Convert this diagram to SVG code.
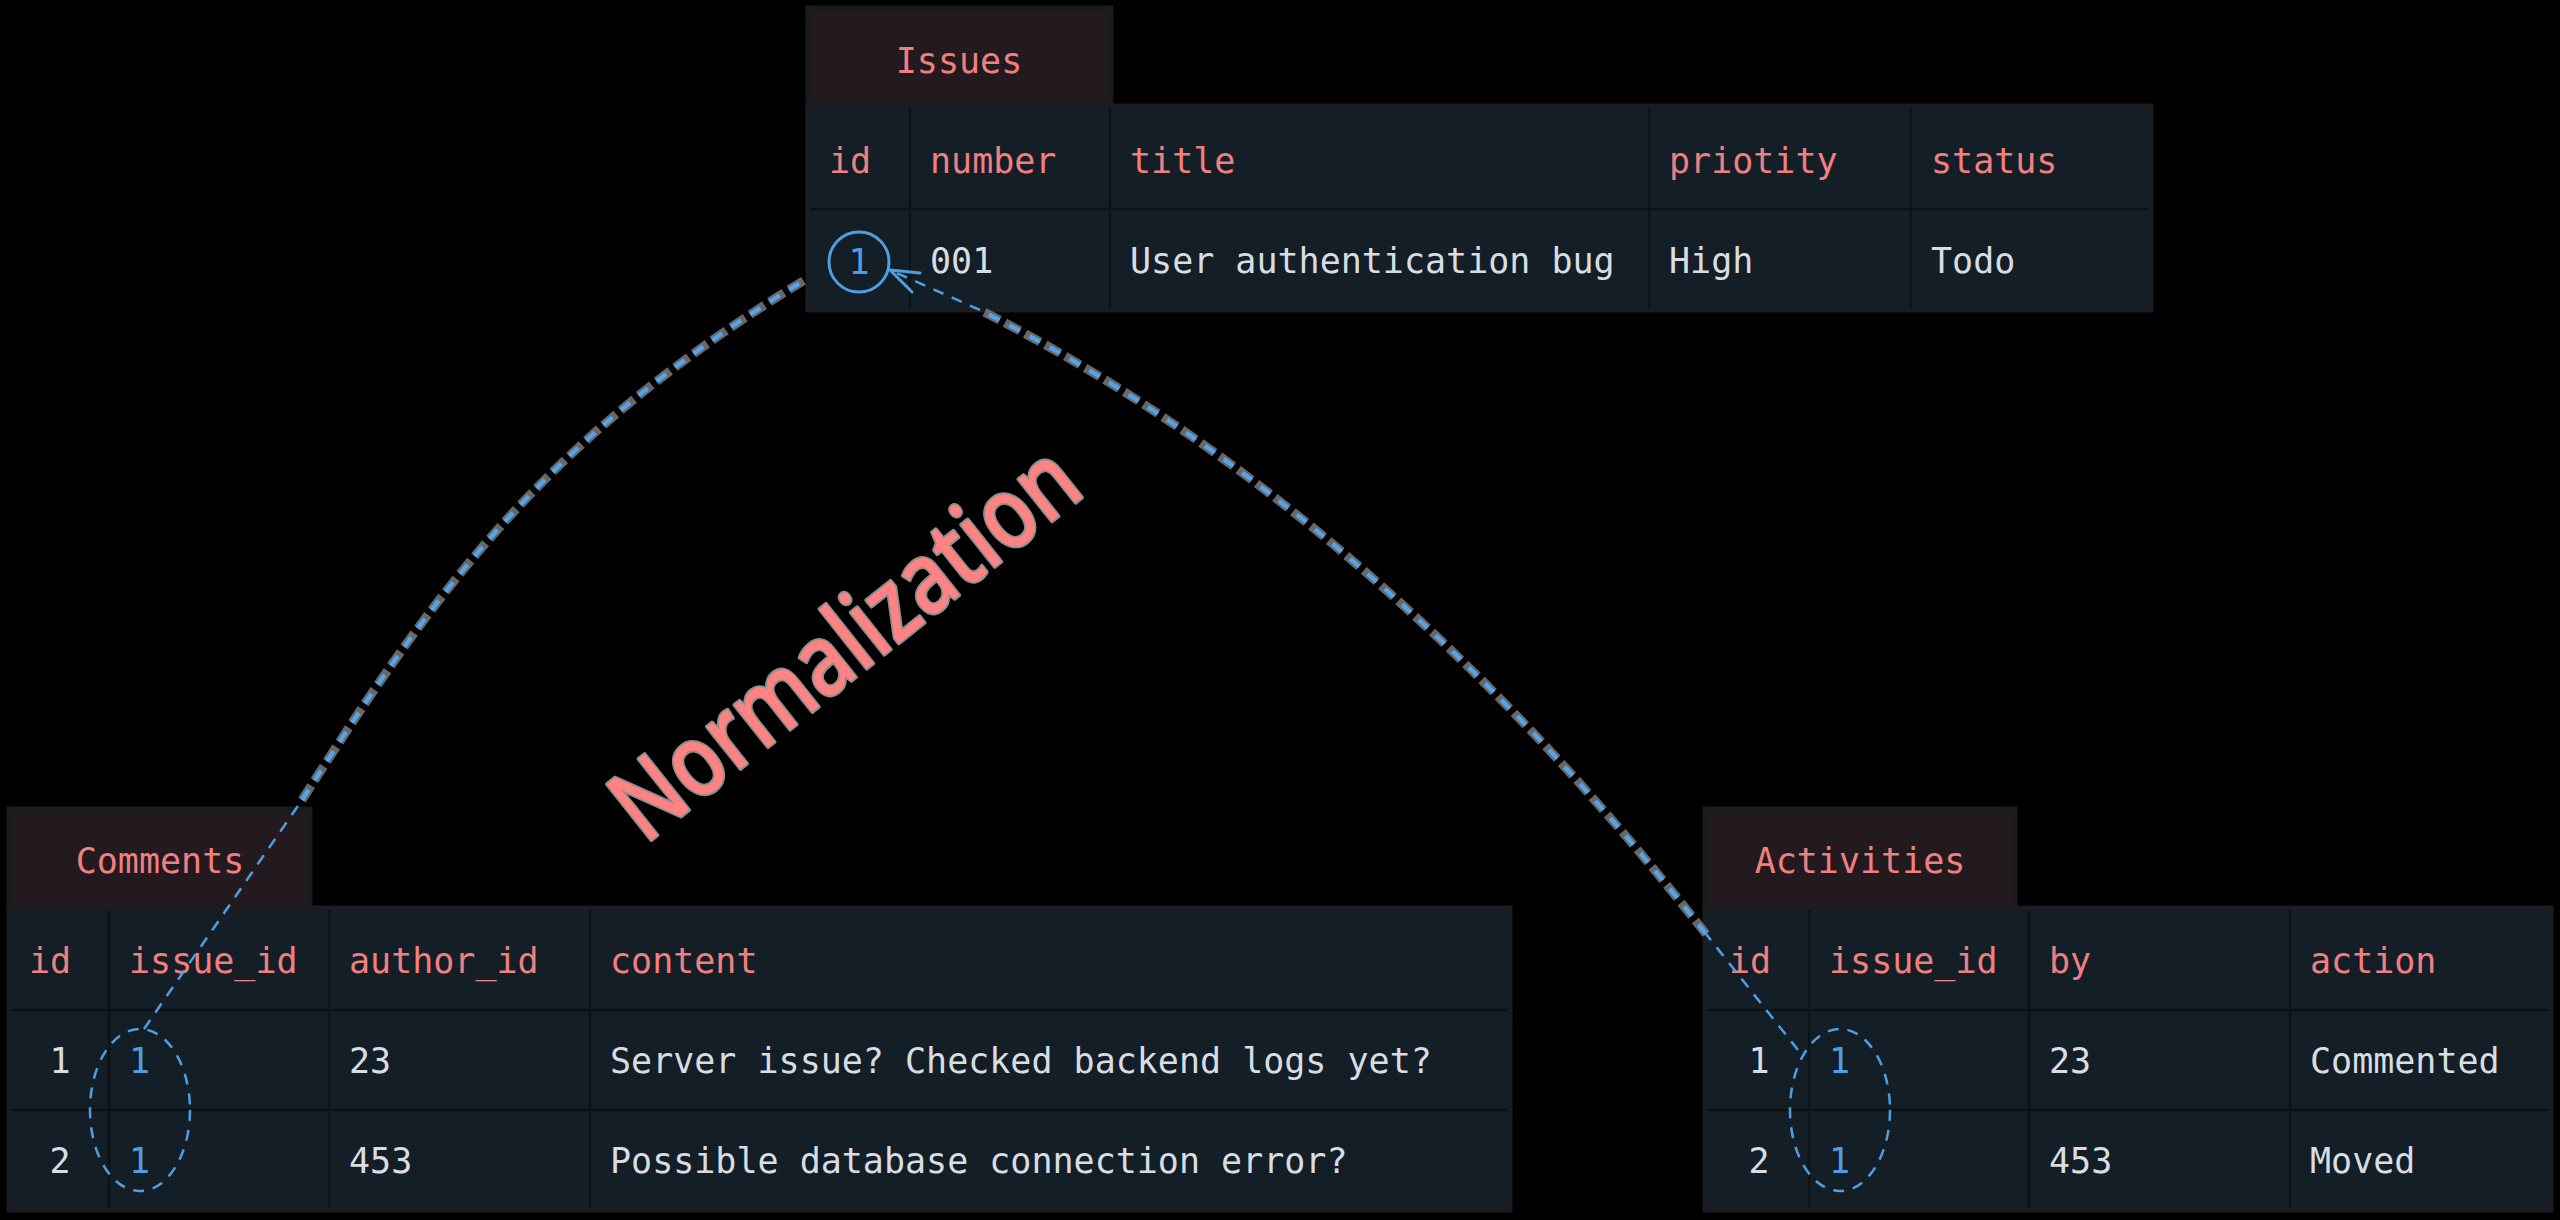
<svg xmlns="http://www.w3.org/2000/svg" width="2560" height="1220" viewBox="0 0 2560 1220">
  <style>
    .tab { fill:#231a1f; stroke:#191b1e; stroke-width:5; }
    .body { fill:#141e27; stroke:#1b1d20; stroke-width:5; }
    .grid { stroke:#0d1217; stroke-width:2.5; fill:none; }
    text { font-family:"DejaVu Sans Mono", "Liberation Mono", monospace; font-size:35px; }
    .title { fill:#f07f7f; text-anchor:middle; }
    .hd { fill:#f07f7f; }
    .td { fill:#d9dde2; }
    .tdc { fill:#d9dde2; text-anchor:middle; }
    .key { fill:#4f9ee3; }
    .keyc { fill:#4f9ee3; text-anchor:middle; }
    .thin { fill:none; stroke:#4f9ee0; stroke-width:2.5; stroke-dasharray:11 9; }
    .halo { fill:none; stroke:#8a8a8a; stroke-width:9; stroke-dasharray:17 6; opacity:0.75; }
    .thick { fill:none; stroke:#55a3e8; stroke-width:4.5; stroke-dasharray:12 11; }
    .ring { fill:none; stroke:#4f9ee0; stroke-width:3; }
    .ringd { fill:none; stroke:#4f9ee0; stroke-width:2.5; stroke-dasharray:11 9; }
    .arrow { fill:none; stroke:#4f9ee0; stroke-width:3; stroke-linecap:round; stroke-linejoin:round; }
    .norm { font-family:"Noto Sans", "DejaVu Sans", sans-serif; font-weight:500; font-size:100px; fill:#ff8383; stroke:#8e8e8e; stroke-width:4; paint-order:stroke; stroke-linejoin:round; }
  </style>
  <rect x="0" y="0" width="2560" height="1220" fill="#000000"/>

  <g id="issues">
    <rect class="tab" x="808" y="8" width="303" height="98"/>
    <rect class="body" x="808" y="106" width="1343" height="204"/>
    <line class="grid" x1="810" y1="209" x2="2149" y2="209"/>
    <line class="grid" x1="910" y1="108" x2="910" y2="308"/>
    <line class="grid" x1="1110" y1="108" x2="1110" y2="308"/>
    <line class="grid" x1="1649" y1="108" x2="1649" y2="308"/>
    <line class="grid" x1="1911" y1="108" x2="1911" y2="308"/>
    <text class="title" x="959" y="73">Issues</text>
    <text class="hd" x="829" y="173">id</text>
    <text class="hd" x="930" y="173">number</text>
    <text class="hd" x="1130" y="173">title</text>
    <text class="hd" x="1669" y="173">priotity</text>
    <text class="hd" x="1931" y="173">status</text>
    <circle class="ring" cx="859" cy="262" r="30"/>
    <text class="keyc" x="859" y="274">1</text>
    <text class="td" x="930" y="273">001</text>
    <text class="td" x="1130" y="273">User authentication bug</text>
    <text class="td" x="1669" y="273">High</text>
    <text class="td" x="1931" y="273">Todo</text>
  </g>

  <g id="comments">
    <rect class="tab" x="9" y="809" width="301" height="99"/>
    <rect class="body" x="9" y="908" width="1501" height="302"/>
    <line class="grid" x1="11" y1="1010" x2="1508" y2="1010"/>
    <line class="grid" x1="11" y1="1110" x2="1508" y2="1110"/>
    <line class="grid" x1="109" y1="910" x2="109" y2="1208"/>
    <line class="grid" x1="329" y1="910" x2="329" y2="1208"/>
    <line class="grid" x1="590" y1="910" x2="590" y2="1208"/>
    <text class="title" x="160" y="873">Comments</text>
    <text class="hd" x="29" y="973">id</text>
    <text class="hd" x="129" y="973">issue_id</text>
    <text class="hd" x="349" y="973">author_id</text>
    <text class="hd" x="610" y="973">content</text>
    <text class="tdc" x="60" y="1073">1</text>
    <text class="key" x="129" y="1073">1</text>
    <text class="td" x="349" y="1073">23</text>
    <text class="td" x="610" y="1073">Server issue? Checked backend logs yet?</text>
    <text class="tdc" x="60" y="1173">2</text>
    <text class="key" x="129" y="1173">1</text>
    <text class="td" x="349" y="1173">453</text>
    <text class="td" x="610" y="1173">Possible database connection error?</text>
    <ellipse class="ringd" cx="140" cy="1110" rx="50" ry="81"/>
  </g>

  <g id="activities">
    <rect class="tab" x="1705" y="809" width="310" height="99"/>
    <rect class="body" x="1705" y="908" width="846" height="302"/>
    <line class="grid" x1="1707" y1="1010" x2="2549" y2="1010"/>
    <line class="grid" x1="1707" y1="1110" x2="2549" y2="1110"/>
    <line class="grid" x1="1809" y1="910" x2="1809" y2="1208"/>
    <line class="grid" x1="2029" y1="910" x2="2029" y2="1208"/>
    <line class="grid" x1="2290" y1="910" x2="2290" y2="1208"/>
    <text class="title" x="1860" y="873">Activities</text>
    <text class="hd" x="1729" y="973">id</text>
    <text class="hd" x="1829" y="973">issue_id</text>
    <text class="hd" x="2049" y="973">by</text>
    <text class="hd" x="2310" y="973">action</text>
    <text class="tdc" x="1759" y="1073">1</text>
    <text class="key" x="1829" y="1073">1</text>
    <text class="td" x="2049" y="1073">23</text>
    <text class="td" x="2310" y="1073">Commented</text>
    <text class="tdc" x="1759" y="1173">2</text>
    <text class="key" x="1829" y="1173">1</text>
    <text class="td" x="2049" y="1173">453</text>
    <text class="td" x="2310" y="1173">Moved</text>
    <ellipse class="ringd" cx="1840" cy="1110" rx="50" ry="81"/>
  </g>

  <g id="connectors">
    <!-- Comments.issue_id -> Issues.id -->
    <path class="thin" d="M144,1029 L302,800"/>
    <path class="halo" d="M302,800 C433,595 540,440 808,278"/>
    <path class="thick" d="M302,800 C433,595 540,440 808,278"/>
    <!-- Activities.issue_id -> Issues.id -->
    <path class="thin" d="M1798,1050 L1706,934"/>
    <path class="halo" d="M1706,934 Q1372,508 980,310"/>
    <path class="thick" d="M1706,934 Q1372,508 980,310"/>
    <path class="thin" d="M980,310 L890,270"/>
    <path class="arrow" d="M920,273 L890,270 L912,292"/>
  </g>

  <g id="label-normalization">
    <text class="norm" transform="translate(645,845) rotate(-38.5)" x="0" y="0" textLength="565" lengthAdjust="spacingAndGlyphs">Normalization</text>
  </g>
</svg>
